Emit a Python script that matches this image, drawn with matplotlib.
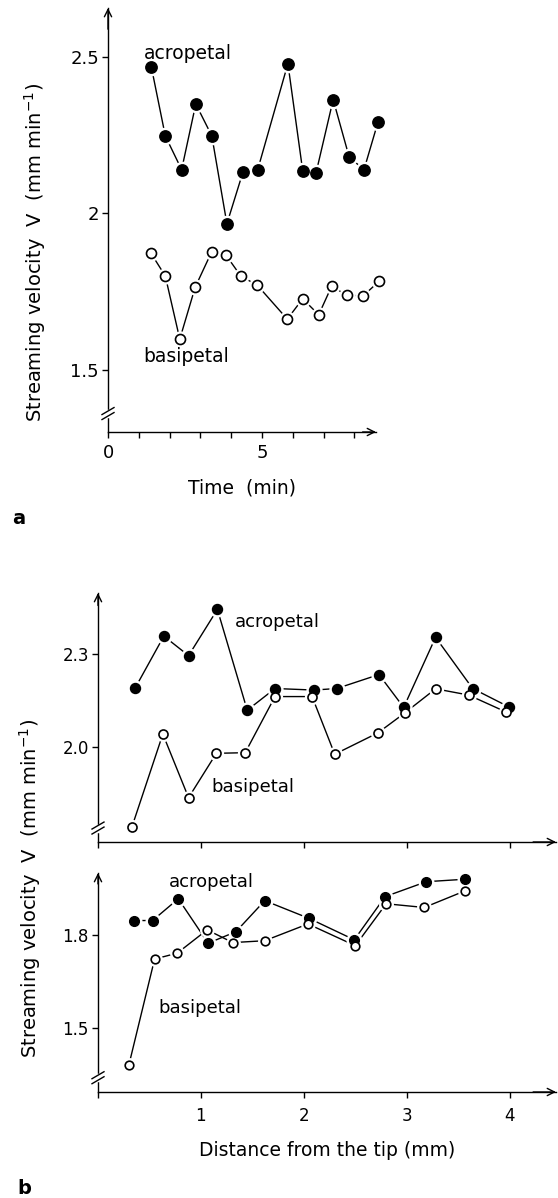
import numpy as np
import matplotlib
matplotlib.use('Agg')
import matplotlib.pyplot as plt

plt.rcParams['font.family'] = ['DejaVu Sans']
plt.rcParams['mathtext.default'] = 'regular'

# panel a: velocity vs time
t_acro = [1.41, 1.86, 2.39, 2.85, 3.37, 3.86, 4.38, 4.86, 5.84, 6.32, 6.75, 7.31, 7.83, 8.31, 8.77]
v_acro = [2.467, 2.248, 2.14, 2.35, 2.248, 1.967, 2.132, 2.14, 2.479, 2.137, 2.128, 2.364, 2.18, 2.14, 2.294]
t_basi = [1.38, 1.86, 2.33, 2.83, 3.36, 3.82, 4.31, 4.85, 5.82, 6.32, 6.84, 7.26, 7.76, 8.29, 8.80]
v_basi = [1.875, 1.80, 1.598, 1.764, 1.876, 1.868, 1.80, 1.77, 1.662, 1.727, 1.676, 1.767, 1.738, 1.737, 1.783]

# panel b (upper): velocity vs distance from tip
d_acro_u = [0.36, 0.64, 0.88, 1.16, 1.45, 1.72, 2.10, 2.32, 2.73, 2.97, 3.28, 3.64, 3.99]
v_acro_u = [2.19, 2.358, 2.295, 2.444, 2.119, 2.189, 2.184, 2.189, 2.234, 2.128, 2.354, 2.189, 2.13]
d_basi_u = [0.33, 0.63, 0.88, 1.15, 1.43, 1.72, 2.08, 2.30, 2.72, 2.98, 3.28, 3.60, 3.96]
v_basi_u = [1.743, 2.042, 1.837, 1.98, 1.982, 2.163, 2.163, 1.977, 2.046, 2.11, 2.188, 2.168, 2.114]

# panel b (lower)
d_acro_l = [0.35, 0.53, 0.78, 1.07, 1.34, 1.62, 2.05, 2.49, 2.79, 3.19, 3.57]
v_acro_l = [1.846, 1.846, 1.916, 1.773, 1.81, 1.91, 1.853, 1.784, 1.923, 1.971, 1.979]
d_basi_l = [0.30, 0.55, 0.77, 1.06, 1.31, 1.62, 2.04, 2.50, 2.80, 3.17, 3.57]
v_basi_l = [1.381, 1.722, 1.741, 1.816, 1.775, 1.781, 1.835, 1.765, 1.90, 1.888, 1.942]

W, H = 558, 1198
fig = plt.figure(figsize=(W / 100, H / 100), dpi=100)


def style(ax, xlim, ylim, fs):
    ax.set_xlim(*xlim)
    ax.set_ylim(*ylim)
    for s in ['top', 'right']:
        ax.spines[s].set_visible(False)
    for s in ['left', 'bottom']:
        ax.spines[s].set_linewidth(1.0)
    ax.tick_params(direction='out', length=4.5, width=1, labelsize=fs, pad=2)
    ax.tick_params(axis='x', pad=4)
    ap = dict(arrowstyle='->', lw=1, color='black', shrinkA=0, shrinkB=0, mutation_scale=13)
    ax.annotate('', xy=(0, 1), xytext=(0, 0.95), xycoords='axes fraction', arrowprops=ap)
    ax.annotate('', xy=(1, 0), xytext=(0.95, 0), xycoords='axes fraction', arrowprops=ap)


def axis_break(ax, yb):
    bb = ax.get_position()
    wpx = bb.width * W
    hpx = bb.height * H
    y0, y1 = ax.get_ylim()
    upp = (y1 - y0) / hpx
    dx = 6 / wpx
    dy = 3.5 * upp
    sep = 2.5 * upp
    tr = ax.get_yaxis_transform()
    ax.plot([0, 0], [yb - sep, yb + sep], transform=tr, color='white', lw=2.5,
            clip_on=False, zorder=5)
    for s in (-sep, sep):
        ax.plot([-dx, dx], [yb + s - dy, yb + s + dy], transform=tr, color='black',
                lw=1, clip_on=False, zorder=6)


def series(ax, x, y, ms):
    ax.plot(x, y, color='black', lw=1.0, zorder=2, clip_on=False)
    ax.plot(x, y, 'o', ms=ms + 3.5, color='white', mec='white', zorder=3, clip_on=False, ls='none')


def marks(ax, x, y, filled, ms):
    if filled:
        ax.plot(x, y, 'o', ms=ms, color='black', mec='black', zorder=4, clip_on=False, ls='none')
    else:
        ax.plot(x, y, 'o', ms=ms, mfc='white', mec='black', mew=1.2, zorder=4,
                clip_on=False, ls='none')


# ---- panel a ----
ax1 = fig.add_axes([108 / W, 1 - 432 / H, (376 - 108) / W, (432 - 8) / H])
style(ax1, (0, 8.7), (1.301, 2.657), 13)
ax1.set_xticks(range(0, 9))
ax1.set_xticklabels(['0', '', '', '', '', '5', '', '', ''])
ax1.set_yticks([1.5, 2, 2.5])
ax1.set_yticklabels(['1.5', '2', '2.5'])
series(ax1, t_acro, v_acro, 8.2)
series(ax1, t_basi, v_basi, 7.2)
marks(ax1, t_acro, v_acro, True, 8.2)
marks(ax1, t_basi, v_basi, False, 7.2)
axis_break(ax1, 1.36)
ax1.text(1.15, 2.513, 'acropetal', fontsize=13.5, va='center', ha='left')
ax1.text(1.15, 1.543, 'basipetal', fontsize=13.5, va='center', ha='left')
ax1.set_xlabel('Time  (min)', fontsize=13.5, labelpad=12)
ax1.set_ylabel(r'Streaming velocity  V  (mm min$^{-1}$)', fontsize=14)
ax1.yaxis.set_label_coords(-0.225, 1 - (252 - 8) / 424)
fig.text(12 / W, 1 - 518 / H, 'a', fontsize=14, fontweight='bold', va='center', ha='left')

# ---- panel b upper ----
ax2 = fig.add_axes([98 / W, 1 - 842 / H, (556 - 98) / W, (842 - 593) / H])
style(ax2, (0, 4.45), (1.694, 2.497), 12)
ax2.set_xticks(range(0, 5))
ax2.set_xticklabels([])
ax2.set_yticks([2.0, 2.3])
ax2.set_yticklabels(['2.0', '2.3'])
series(ax2, d_acro_u, v_acro_u, 7.2)
series(ax2, d_basi_u, v_basi_u, 6.5)
marks(ax2, d_acro_u, v_acro_u, True, 7.2)
marks(ax2, d_basi_u, v_basi_u, False, 6.5)
axis_break(ax2, 1.739)
ax2.text(1.33, 2.404, 'acropetal', fontsize=13, va='center', ha='left')
ax2.text(1.10, 1.87, 'basipetal', fontsize=13, va='center', ha='left')

# ---- panel b lower ----
ax3 = fig.add_axes([98 / W, 1 - 1092 / H, (556 - 98) / W, (1092 - 873) / H])
style(ax3, (0, 4.45), (1.294, 1.999), 12)
ax3.set_xticks(range(0, 5))
ax3.set_xticklabels(['', '1', '2', '3', '4'])
ax3.tick_params(axis='x', pad=6)
ax3.set_yticks([1.5, 1.8])
ax3.set_yticklabels(['1.5', '1.8'])
series(ax3, d_acro_l, v_acro_l, 7)
series(ax3, d_basi_l, v_basi_l, 6.2)
marks(ax3, d_acro_l, v_acro_l, True, 7)
marks(ax3, d_basi_l, v_basi_l, False, 6.2)
axis_break(ax3, 1.34)
ax3.text(0.69, 1.971, 'acropetal', fontsize=13, va='center', ha='left')
ax3.text(0.59, 1.564, 'basipetal', fontsize=13, va='center', ha='left')
ax3.set_xlabel('Distance from the tip (mm)', fontsize=13.5, labelpad=12)
fig.text(30 / W, 1 - 888 / H, r'Streaming velocity  V  (mm min$^{-1}$)', fontsize=14,
         rotation=90, va='center', ha='center')
fig.text(17 / W, 1 - 1188 / H, 'b', fontsize=14, fontweight='bold', va='center', ha='left')

fig.savefig('out.png', dpi=100)
